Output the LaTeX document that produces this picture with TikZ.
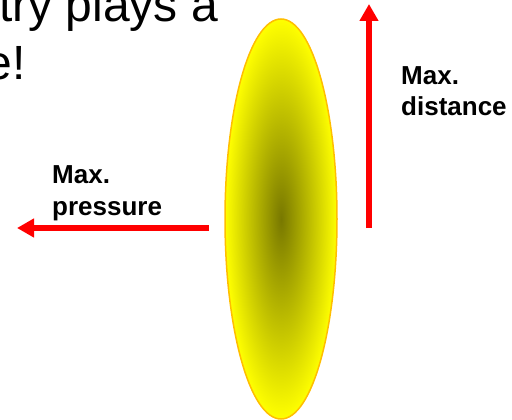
\documentclass[tikz,border=0pt]{standalone}
\usepackage{fontspec}
\setmainfont{Liberation Sans}
\usetikzlibrary{arrows.meta,shapes.geometric}
\definecolor{arrowred}{RGB}{255,0,0}
\definecolor{discyellow}{RGB}{255,255,0}
\definecolor{disccenter}{RGB}{120,120,0}
\definecolor{discborder}{RGB}{255,190,0}
\begin{document}
\begin{tikzpicture}[x=1pt,y=-1pt,
  bigtext/.style={inner sep=0pt, font=\fontsize{48}{57}\selectfont},
  lbl/.style={inner sep=0pt, align=left, font=\bfseries\fontsize{26}{32}\selectfont},
  redarrow/.style={draw=arrowred, line width=6pt, -{Triangle[length=17pt,width=18pt]}},
  disc/.style={ellipse, minimum width=112pt, minimum height=400pt, inner sep=0pt,
    draw=discborder, line width=1.5pt, inner color=disccenter, outer color=discyellow}]
\clip (0,0) rectangle (512,420);
\useasboundingbox (0,0) rectangle (512,420);
\node[bigtext, anchor=base west] (t1) at (-1,22) {try plays a};
\node[bigtext, anchor=base east] (t2) at (26,80) {e!};
\node[disc] (d) at (281,219) {};
\coordinate (vs) at (369,228);
\coordinate (ve) at (369,4);
\coordinate (hs) at (209,228);
\coordinate (he) at (17,228);
\draw[redarrow] (vs) -- (ve);
\draw[redarrow] (hs) -- (he);
\node[lbl, anchor=base west] (ld) at (401,116) {Max.\\distance};
\node[lbl, anchor=base west] (lp) at (52,215) {Max.\\pressure};
\end{tikzpicture}
\end{document}
